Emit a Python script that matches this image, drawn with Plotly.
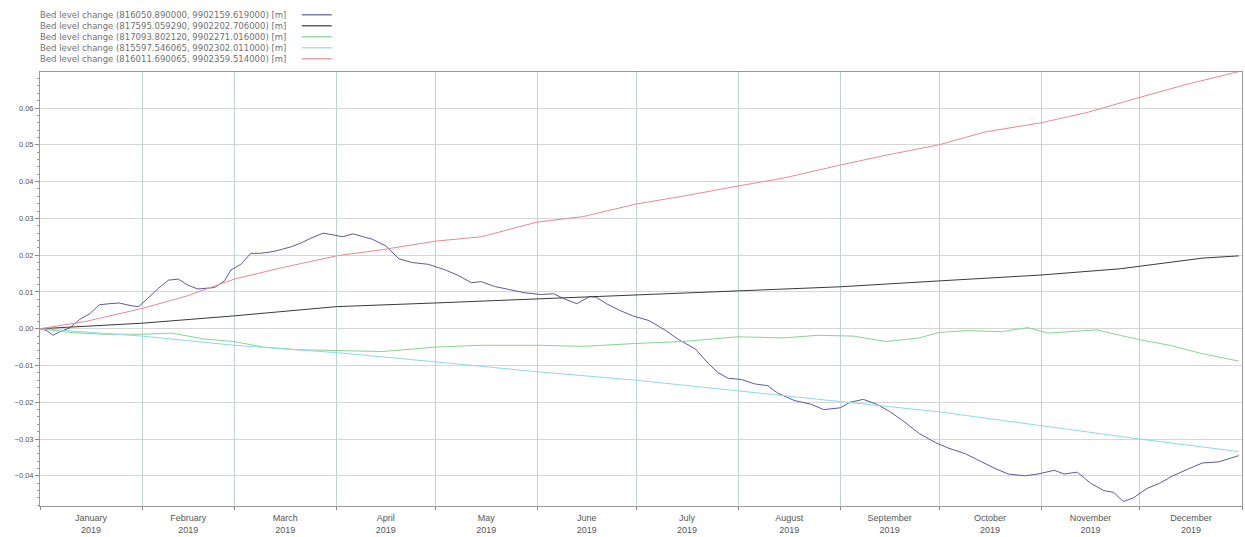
import plotly.graph_objects as go

# ---- series data: bed level change [m] at five observation points, 2019 ----
names = [
    "Bed level change (816050.890000, 9902159.619000) [m]",
    "Bed level change (817595.059290, 9902202.706000) [m]",
    "Bed level change (817093.802120, 9902271.016000) [m]",
    "Bed level change (815597.546065, 9902302.011000) [m]",
    "Bed level change (816011.690065, 9902359.514000) [m]",
]
colors = ["#5b5b9b", "#3a3a3a", "#86d492", "#8cdae6", "#e68a93"]

dates_1 = [
    "2019-01-01", "2019-01-03", "2019-01-05", "2019-01-07", "2019-01-10", "2019-01-13",
    "2019-01-16", "2019-01-19", "2019-01-22", "2019-01-25", "2019-01-29", "2019-01-31",
    "2019-02-03", "2019-02-06", "2019-02-09", "2019-02-12", "2019-02-15", "2019-02-18",
    "2019-02-23", "2019-02-26", "2019-02-28", "2019-03-03", "2019-03-06", "2019-03-09",
    "2019-03-13", "2019-03-18", "2019-03-21", "2019-03-24", "2019-03-28", "2019-03-31",
    "2019-04-03", "2019-04-06", "2019-04-09", "2019-04-12", "2019-04-16", "2019-04-20",
    "2019-04-24", "2019-04-29", "2019-05-04", "2019-05-08", "2019-05-12", "2019-05-15",
    "2019-05-19", "2019-05-24", "2019-05-28", "2019-06-02", "2019-06-06", "2019-06-09",
    "2019-06-13", "2019-06-17", "2019-06-19", "2019-06-22", "2019-06-26", "2019-06-30",
    "2019-07-05", "2019-07-10", "2019-07-14", "2019-07-19", "2019-07-23", "2019-07-26",
    "2019-07-29", "2019-08-02", "2019-08-06", "2019-08-10", "2019-08-13", "2019-08-18",
    "2019-08-23", "2019-08-27", "2019-09-01", "2019-09-04", "2019-09-08", "2019-09-12",
    "2019-09-16", "2019-09-20", "2019-09-25", "2019-09-30", "2019-10-04", "2019-10-09",
    "2019-10-13", "2019-10-18", "2019-10-22", "2019-10-27", "2019-10-31", "2019-11-05",
    "2019-11-08", "2019-11-12", "2019-11-16", "2019-11-20", "2019-11-23", "2019-11-26",
    "2019-11-29", "2019-12-03", "2019-12-07", "2019-12-11", "2019-12-16", "2019-12-20",
    "2019-12-25", "2019-12-29", "2019-12-31",
]
values_1 = [
    0.0, -0.0005, -0.0018, -0.0008, 0.0002, 0.0025,
    0.004, 0.0065, 0.0068, 0.0070, 0.0062, 0.0060,
    0.0085, 0.0110, 0.0132, 0.0135, 0.0118, 0.0108,
    0.0112, 0.0130, 0.0160, 0.0175, 0.0205, 0.0205,
    0.0210, 0.0222, 0.0232, 0.0245, 0.0260, 0.0255,
    0.0250, 0.0258, 0.0250, 0.0243, 0.0225, 0.0190,
    0.0180, 0.0175, 0.0160, 0.0145, 0.0125, 0.0128,
    0.0115, 0.0105, 0.0098, 0.0093, 0.0095, 0.0082,
    0.0068, 0.0088, 0.0085, 0.0068, 0.0050, 0.0035,
    0.0022, -0.0005, -0.0030, -0.0055, -0.0095, -0.0120,
    -0.0135, -0.0138, -0.0150, -0.0155, -0.0175, -0.0195,
    -0.0205, -0.0220, -0.0215, -0.0200, -0.0192, -0.0205,
    -0.0225, -0.0250, -0.0285, -0.0310, -0.0325, -0.0340,
    -0.0358, -0.0380, -0.0395, -0.0400, -0.0395, -0.0385,
    -0.0395, -0.0390, -0.0420, -0.0440, -0.0445, -0.0470,
    -0.0460, -0.0435, -0.0420, -0.0400, -0.0380, -0.0365,
    -0.0362, -0.0350, -0.0345,
]

dates_2 = [
    "2019-01-01", "2019-02-01", "2019-03-01", "2019-04-01", "2019-05-01", "2019-06-01",
    "2019-07-01", "2019-08-01", "2019-09-01", "2019-10-01", "2019-11-01", "2019-11-25",
    "2019-12-10", "2019-12-20", "2019-12-31",
]
values_2 = [
    0.0, 0.0015, 0.0035, 0.0060, 0.0070, 0.0081,
    0.0092, 0.0103, 0.0114, 0.0130, 0.0146, 0.0163,
    0.0180, 0.0192, 0.0198,
]

dates_3 = [
    "2019-01-01", "2019-01-10", "2019-01-20", "2019-02-01", "2019-02-10", "2019-02-20",
    "2019-03-01", "2019-03-10", "2019-03-20", "2019-04-01", "2019-04-15", "2019-05-01",
    "2019-05-15", "2019-06-01", "2019-06-15", "2019-07-01", "2019-07-15", "2019-08-01",
    "2019-08-15", "2019-08-25", "2019-09-05", "2019-09-15", "2019-09-25", "2019-10-01",
    "2019-10-10", "2019-10-20", "2019-10-28", "2019-11-03", "2019-11-10", "2019-11-18",
    "2019-11-25", "2019-12-01", "2019-12-10", "2019-12-20", "2019-12-31",
]
values_3 = [
    0.0, -0.0010, -0.0015, -0.0015, -0.0012, -0.0028,
    -0.0035, -0.0050, -0.0057, -0.0060, -0.0062, -0.0050,
    -0.0045, -0.0045, -0.0048, -0.0040, -0.0035, -0.0022,
    -0.0025, -0.0018, -0.0020, -0.0035, -0.0025, -0.0010,
    -0.0005, -0.0008, 0.0003, -0.0012, -0.0008, -0.0003,
    -0.0018, -0.0030, -0.0045, -0.0068, -0.0088,
]

dates_4 = [
    "2019-01-01", "2019-02-01", "2019-03-01", "2019-04-01", "2019-05-01", "2019-06-01",
    "2019-07-01", "2019-08-01", "2019-09-01", "2019-10-01", "2019-11-01", "2019-12-01",
    "2019-12-31",
]
values_4 = [
    0.0, -0.0020, -0.0045, -0.0065, -0.0090, -0.0117,
    -0.0140, -0.0170, -0.0198, -0.0226, -0.0264, -0.0300,
    -0.0334,
]

dates_5 = [
    "2019-01-01", "2019-01-15", "2019-02-01", "2019-02-15", "2019-03-01", "2019-03-15",
    "2019-04-01", "2019-04-15", "2019-05-01", "2019-05-15", "2019-06-01", "2019-06-15",
    "2019-07-01", "2019-07-15", "2019-08-01", "2019-08-15", "2019-09-01", "2019-09-15",
    "2019-10-01", "2019-10-15", "2019-11-01", "2019-11-15", "2019-12-01", "2019-12-15",
    "2019-12-31",
]
values_5 = [
    0.0, 0.0020, 0.0055, 0.0090, 0.0135, 0.0165,
    0.0198, 0.0215, 0.0238, 0.0250, 0.0290, 0.0305,
    0.0339, 0.0360, 0.0388, 0.0410, 0.0445, 0.0472,
    0.0500, 0.0535, 0.0560, 0.0588, 0.0629, 0.0664,
    0.0699,
]

all_dates = [dates_1, dates_2, dates_3, dates_4, dates_5]
all_values = [values_1, values_2, values_3, values_4, values_5]

fig = go.Figure()
for name, color, xs, ys in zip(names, colors, all_dates, all_values):
    fig.add_trace(go.Scatter(
        x=xs, y=ys, mode="lines", name=name,
        line=dict(color=color, width=1),
        showlegend=False,
    ))

# compact legend block above the plot area: one multi-line text + line samples
plot_top, plot_bottom, plot_left, plot_width = 72, 508, 40, 1203
plot_height = plot_bottom - plot_top
legend_font = 8.5
line_step = legend_font * 1.3
legend_top_px = 8
fig.add_annotation(
    xref="paper", yref="paper",
    x=(38 - plot_left) / plot_width, y=(plot_bottom - legend_top_px) / plot_height,
    xanchor="left", yanchor="top", align="left", showarrow=False,
    text="<br>".join(names),
    font=dict(size=legend_font, color="#707070", family="DejaVu Sans"),
)
for i, color in enumerate(colors):
    ypx = legend_top_px + 1 + line_step * (i + 0.5)
    yp = (plot_bottom - ypx) / plot_height
    fig.add_shape(
        type="line", xref="paper", yref="paper",
        x0=(302 - plot_left) / plot_width, x1=(332 - plot_left) / plot_width,
        y0=yp, y1=yp, line=dict(color=color, width=1.2),
    )

fig.update_layout(
    width=1245, height=537,
    margin=dict(l=40, r=2, t=72, b=29),
    paper_bgcolor="white", plot_bgcolor="white",
    font=dict(family="Liberation Sans, Arial", color="#555555"),
)
fig.update_xaxes(
    range=["2019-01-01", "2020-01-01"],
    dtick="M1", tickformat="%B<br>%Y", ticklabelmode="period",
    ticks="outside", ticklen=3, tickcolor="#888888",
    showgrid=True, gridcolor="#bdd3d3", gridwidth=1,
    showline=True, linecolor="#999999", mirror=True,
    tickfont=dict(size=9, color="#555555"),
    zeroline=False,
)
fig.update_yaxes(
    range=[-0.0482, 0.0698],
    dtick=0.01, tickformat=".2f",
    ticks="outside", ticklen=4, tickcolor="#888888",
    minor=dict(dtick=0.002, ticks="outside", ticklen=2, tickcolor="#999999", showgrid=False),
    showgrid=True, gridcolor="#d6d6d6", gridwidth=1,
    showline=True, linecolor="#999999", mirror=True,
    tickfont=dict(size=7.5, color="#555555"),
    zeroline=False,
)

fig.write_html("out.html")
